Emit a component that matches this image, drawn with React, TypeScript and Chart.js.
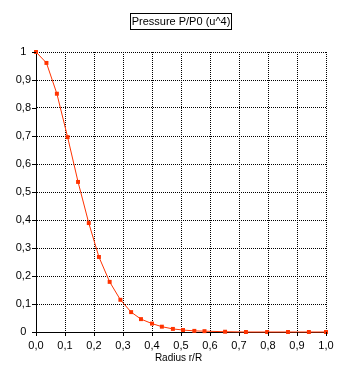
import React, { useEffect, useRef } from "react";
import { Chart, registerables } from "chart.js";

Chart.register(...registerables);

const radius = [0, 0.036, 0.072, 0.109, 0.145, 0.182, 0.217, 0.254, 0.291, 0.328, 0.362, 0.4, 0.434, 0.472, 0.507, 0.546, 0.581, 0.652, 0.724, 0.797, 0.869, 0.941, 1.0];
const pressure = [1, 0.961, 0.851, 0.696, 0.536, 0.389, 0.268, 0.179, 0.115, 0.071, 0.046, 0.03, 0.019, 0.011, 0.007, 0.004, 0.003, 0.001, 0, 0, 0, 0, 0];
const xTickLabels = ["0,0", "0,1", "0,2", "0,3", "0,4", "0,5", "0,6", "0,7", "0,8", "0,9", "1,0"];
const yTickLabels = ["0", "0,1", "0,2", "0,3", "0,4", "0,5", "0,6", "0,7", "0,8", "0,9", "1"];
const titleText = "Pressure P/P0 (u^4)";
const xAxisTitle = "Radius r/R";

const FONT = "'Liberation Sans', Arial, sans-serif";

const decorPlugin = {
  id: "decor",
  afterDraw(chart: any) {
    const ctx = chart.ctx;
    const xs = chart.scales.x;
    const ys = chart.scales.y;
    const area = chart.chartArea;
    ctx.save();
    ctx.strokeStyle = "#000";
    ctx.lineWidth = 1;
    ctx.setLineDash([]);
    // tick marks
    ys.ticks.forEach((t: any) => {
      const y = Math.round(ys.getPixelForValue(t.value)) + 0.5;
      ctx.beginPath();
      ctx.moveTo(area.left - 4, y);
      ctx.lineTo(area.left, y);
      ctx.stroke();
    });
    xs.ticks.forEach((t: any) => {
      const x = Math.round(xs.getPixelForValue(t.value)) + 0.5;
      ctx.beginPath();
      ctx.moveTo(x, area.bottom);
      ctx.lineTo(x, area.bottom + 4);
      ctx.stroke();
    });
    // boxed title
    ctx.font = "11px " + FONT;
    ctx.fillStyle = "#000";
    ctx.textAlign = "center";
    ctx.textBaseline = "middle";
    const cx = 181;
    ctx.fillText(titleText, cx, 21.5);
    ctx.strokeRect(130.5, 13.5, 101, 16);
    // x axis title
    ctx.font = "10px " + FONT;
    ctx.fillText(xAxisTitle, 178.5, 358);
    ctx.restore();
  },
};

export default function App() {
  const ref = useRef<HTMLCanvasElement | null>(null);
  useEffect(() => {
    document.body.style.margin = "0";
    const canvas = ref.current!;
    const chart = new Chart(canvas, {
      type: "line",
      data: {
        datasets: [
          {
            data: radius.map((r, i) => ({ x: r, y: pressure[i] })),
            borderColor: "#ff3300",
            backgroundColor: "#ff3300",
            borderWidth: 1,
            pointStyle: "rect",
            pointRadius: 2.8,
            pointBorderWidth: 0,
            pointHoverRadius: 2.8,
            tension: 0,
            clip: false,
          } as any,
        ],
      },
      plugins: [decorPlugin],
      options: {
        animation: false,
        responsive: false,
        devicePixelRatio: 1,
        events: [],
        layout: { padding: { top: 52, right: 36, left: 0, bottom: 0 } },
        plugins: { legend: { display: false }, title: { display: false }, tooltip: { enabled: false } },
        scales: {
          x: {
            type: "linear",
            min: 0,
            max: 1,
            afterFit: (s: any) => { s.height = 49; },
            grid: { color: "#000", lineWidth: 1, drawTicks: false },
            border: { display: true, color: "#000", width: 1, dash: [1, 1] },
            ticks: {
              stepSize: 0.1,
              padding: 7,
              color: "#000",
              font: { family: FONT, size: 11 },
              maxRotation: 0,
              autoSkip: false,
              callback: (v: any, i: number) => xTickLabels[i] ?? "",
            },
          },
          y: {
            type: "linear",
            min: 0,
            max: 1,
            afterFit: (s: any) => { s.width = 36; },
            grid: { color: "#000", lineWidth: 1, drawTicks: false },
            border: { display: true, color: "#000", width: 1, dash: [1, 1] },
            ticks: {
              stepSize: 0.1,
              padding: 5,
              crossAlign: "center",
              color: "#000",
              font: { family: FONT, size: 11 },
              autoSkip: false,
              callback: (v: any, i: number) => yTickLabels[i] ?? "",
            },
          },
        },
      } as any,
    });
    return () => chart.destroy();
  }, []);
  return <canvas ref={ref} width={362} height={381} style={{ display: "block", width: 362, height: 381 }} />;
}
